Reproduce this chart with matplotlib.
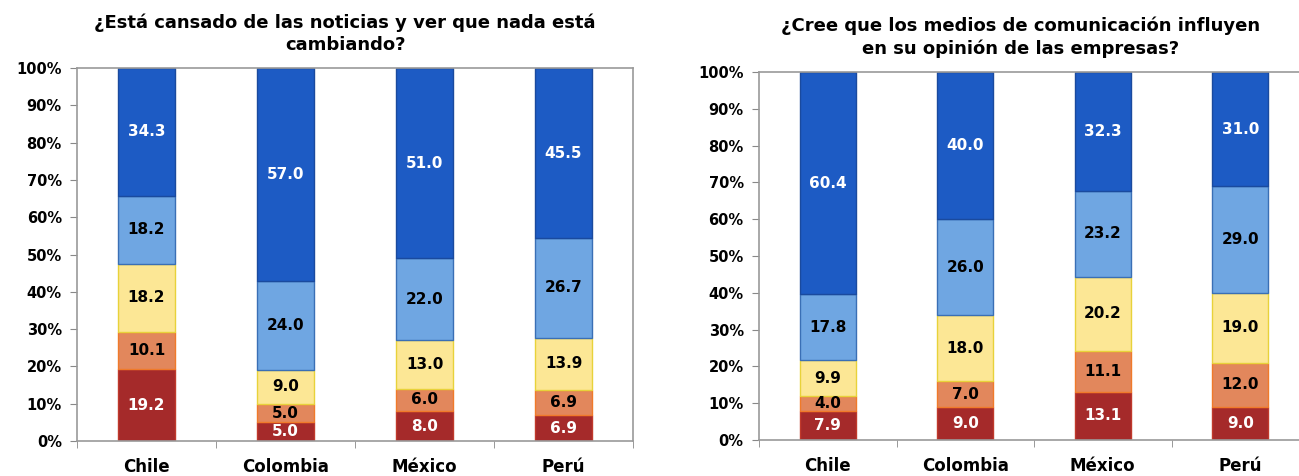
import numpy as np
import matplotlib.pyplot as plt

# datos
paises = ['Chile', 'Colombia', 'México', 'Perú']

titulo_1 = '¿Está cansado de las noticias y ver que nada está\ncambiando?'
rojo_1 = [19.2, 5.0, 8.0, 6.9]
naranja_1 = [10.1, 5.0, 6.0, 6.9]
amarillo_1 = [18.2, 9.0, 13.0, 13.9]
celeste_1 = [18.2, 24.0, 22.0, 26.7]
azul_1 = [34.3, 57.0, 51.0, 45.5]

titulo_2 = '¿Cree que los medios de comunicación influyen\nen su opinión de las empresas?'
rojo_2 = [7.9, 9.0, 13.1, 9.0]
naranja_2 = [4.0, 7.0, 11.1, 12.0]
amarillo_2 = [9.9, 18.0, 20.2, 19.0]
celeste_2 = [17.8, 26.0, 23.2, 29.0]
azul_2 = [60.4, 40.0, 32.3, 31.0]

colores = ['#A52A2A', '#E2875C', '#FCE795', '#6FA6E2', '#1D5BC4']
bordes = ['#C0392B', '#F07A2A', '#E8D23A', '#3A6FB5', '#1A4A9E']
txt_col = ['white', 'black', 'black', 'black', 'white']

plt.rcParams['font.family'] = ['DejaVu Sans']

fig = plt.figure(figsize=(12.99, 4.76), dpi=100)
ax1 = fig.add_axes([0.0593, 0.0735, 0.428, 0.7836])
ax2 = fig.add_axes([0.5843, 0.0756, 0.4234, 0.773])


def dibuja(ax, titulo, series, xt):
    x = np.arange(len(paises))
    base = np.zeros(len(paises))
    for vals, c, e, tc in zip(series, colores, bordes, txt_col):
        vals = np.array(vals)
        ax.bar(x, vals, bottom=base, width=0.41, color=c, edgecolor=e, linewidth=1)
        for xi, b, v in zip(x, base, vals):
            ax.text(xi, b + v / 2, f'{v:.1f}', ha='center', va='center',
                    color=tc, fontsize=11, fontweight='bold')
        base += vals
    ax.set_xlim(-0.5, len(paises) - 0.5)
    ax.set_ylim(0, 100)
    ax.set_yticks(range(0, 101, 10))
    ax.set_yticklabels([f'{v}%' for v in range(0, 101, 10)], fontsize=10.5, fontweight='bold')
    ax.set_xticks(x)
    ax.set_xticklabels(paises, fontsize=12, fontweight='bold')
    ax.tick_params(axis='x', length=0, pad=12)
    ax.set_xticks(np.arange(-0.5, len(paises), 1), minor=True)
    ax.tick_params(axis='x', which='minor', length=5, color='#888888')
    ax.tick_params(axis='y', length=5, color='#888888', pad=6)
    for s in ax.spines.values():
        s.set_color('#9a9a9a')
        s.set_linewidth(1.2)
    ax.set_title(titulo, fontsize=13, fontweight='bold', pad=13, linespacing=1.3, x=xt)


dibuja(ax1, titulo_1, [rojo_1, naranja_1, amarillo_1, celeste_1, azul_1], 0.482)
dibuja(ax2, titulo_2, [rojo_2, naranja_2, amarillo_2, celeste_2, azul_2], 0.475)

fig.savefig('out.png', dpi=100)
